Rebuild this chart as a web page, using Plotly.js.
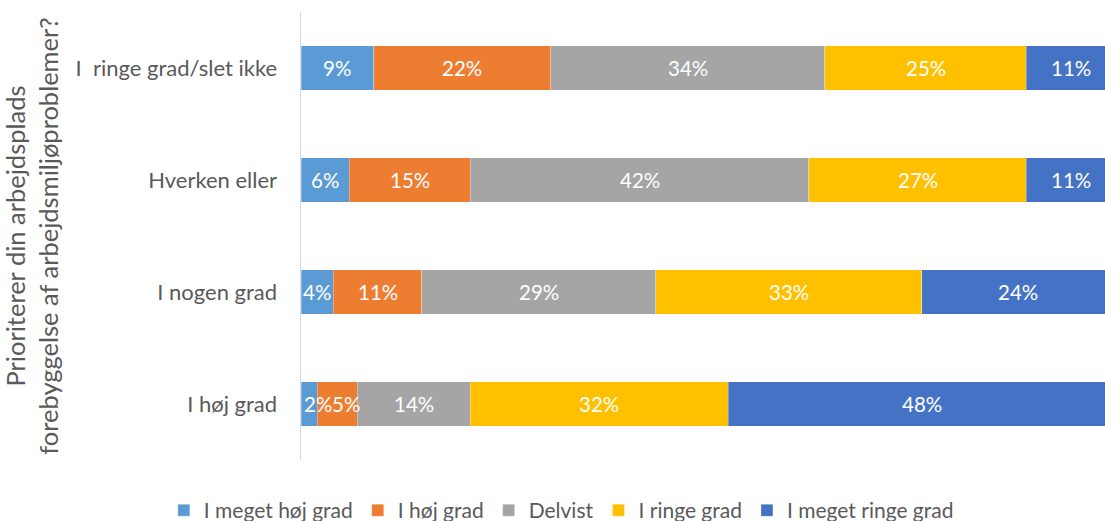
<!DOCTYPE html>
<html>
<head>
<meta charset="utf-8">
<script src="https://cdn.plot.ly/plotly-3.0.1.min.js"></script>
<style>html,body{margin:0;padding:0;overflow:hidden;background:#fff}#chart{width:1105px;height:521px}</style>
</head>
<body>
<div id="chart"></div>
<script>
// Categories, bottom to top as Plotly draws them
const categories = ["I høj grad", "I nogen grad", "Hverken eller", "I\u00a0 ringe grad/slet ikke"];
const seriesNames = ["I meget høj grad", "I høj grad", "Delvist", "I ringe grad", "I meget ringe grad"];
const megetHoej = [2, 4, 6, 9];
const hoej = [5, 11, 15, 22];
const delvist = [14, 29, 42, 34];
const ringe = [32, 33, 27, 25];
const megetRinge = [48, 24, 11, 11];
const colors = ["#5B9BD5", "#ED7D31", "#A5A5A5", "#FFC000", "#4472C4"];

const allSeries = [megetHoej, hoej, delvist, ringe, megetRinge];
const font = "Lato, 'Open Sans', sans-serif";

const traces = allSeries.map((vals, i) => ({
  type: "bar",
  orientation: "h",
  name: seriesNames[i],
  y: categories,
  x: vals,
  marker: {color: colors[i], line: {color: "rgba(255,255,255,0.6)", width: 0.5}},
  hoverinfo: "x+name"
}));

// Data labels placed at segment centres (from cumulative values)
const annotations = [];
categories.forEach((cat, ci) => {
  let cum = 0;
  allSeries.forEach((vals, si) => {
    const v = vals[ci];
    const ann = {
      x: cum + v / 2, y: cat, xref: "x", yref: "y",
      text: v + "%", showarrow: false,
      font: {family: font, size: 20.5, color: "#ffffff"},
      xanchor: "center", yanchor: "middle"
    };
    // keep first label inside plot area when its bar is narrow
    if (si === 0 && v < 3) { ann.x = 0; ann.xanchor = "left"; ann.xshift = 1; }
    if (si === 1 && allSeries[0][ci] < 3) { ann.xshift = 9; }
    annotations.push(ann);
    cum += v;
  });
});

const layout = {
  width: 1105, height: 521,
  barmode: "stack",
  bargap: 0.6,
  margin: {l: 301, r: 0, t: 12, b: 61, pad: 0},
  paper_bgcolor: "#fff", plot_bgcolor: "#fff",
  font: {family: font, size: 20, color: "#595959"},
  showlegend: true,
  legend: {
    orientation: "h", xref: "container", yref: "container",
    x: 0.508, xanchor: "center", y: 0.02, yanchor: "middle",
    font: {family: font, size: 21, color: "#595959"},
    itemwidth: 30, traceorder: "normal"
  },
  xaxis: {
    range: [0, 99.75], showgrid: false, zeroline: false,
    showticklabels: false, ticks: "", showline: false, fixedrange: true
  },
  yaxis: {
    type: "category", categoryorder: "array", categoryarray: categories,
    showgrid: false, zeroline: false, showline: true,
    linecolor: "#D9D9D9", linewidth: 1.5, ticks: "",
    ticklabelstandoff: 18,
    tickfont: {family: font, size: 22, color: "#595959"},
    title: {text: "Prioriterer din arbejdsplads<br>forebyggelse af arbejdsmiljøproblemer?",
      font: {family: font, size: 25.5, color: "#595959"}, standoff: 14},
    automargin: false, fixedrange: true
  },
  annotations: annotations
};

Plotly.newPlot("chart", traces, layout, {displayModeBar: false, staticPlot: true});
</script>
</body>
</html>
